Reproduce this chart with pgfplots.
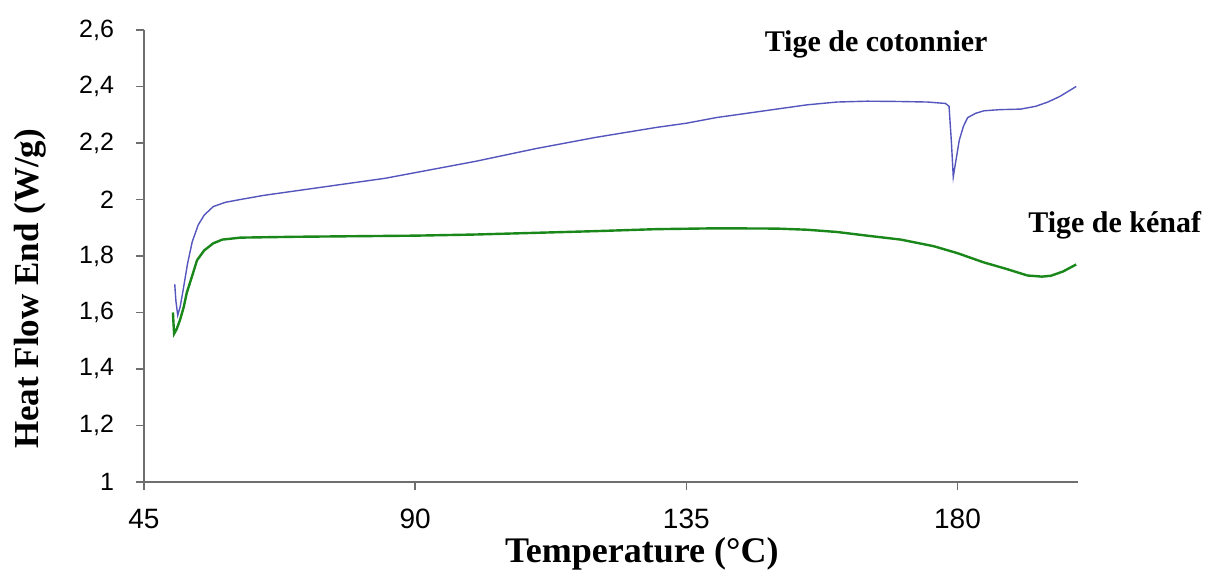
\documentclass[border=0pt]{standalone}
\usepackage{fontspec}
\setmainfont{Liberation Serif}
\newfontfamily\arial{Liberation Sans}
\usepackage{pgfplots}
\pgfplotsset{compat=1.18}
\definecolor{cblue}{RGB}{85,85,190}
\definecolor{cgreen}{RGB}{25,135,25}
\definecolor{caxis}{RGB}{110,110,110}
\begin{document}
\begin{tikzpicture}
\path[use as bounding box] (-72pt,-44.5pt) rectangle (531pt,241pt);
\begin{axis}[
  at={(0,0)}, anchor=origin,
  scale only axis,
  width=467pt, height=226pt,
  xmin=45, xmax=200, ymin=1, ymax=2.6,
  axis lines=left,
  axis line style={-, caxis, line width=0.9pt},
  clip=false,
  xtick={45,90,135,180},
  ytick={1,1.2,1.4,1.6,1.8,2,2.2,2.4,2.6},
  tick style={caxis, line width=0.8pt},
  tick align=outside,
  major tick length=4pt,
  /pgf/number format/assume math mode=true,
  /pgf/number format/use comma,
  /pgf/number format/fixed,
  /pgf/number format/precision=1,
  yticklabel style={font=\arial\fontsize{12.5}{13}\selectfont, xshift=-7.5pt},
  xticklabel style={font=\arial\fontsize{14}{14}\selectfont, yshift=-6pt},
  xlabel={\textbf{Temperature (°C)}},
  ylabel={\textbf{Heat Flow End (W/g)}},
  xlabel style={font=\fontsize{18}{18}\selectfont, at={(axis description cs:0.533,0)}, anchor=base, yshift=-40.5pt},
  ylabel style={font=\fontsize{17.5}{18}\selectfont, at={(axis description cs:-0.122,0.427)}, anchor=center},
]
\addplot[cblue, line width=0.7pt] coordinates {
(50.1,1.70) (50.3,1.64) (50.6,1.59) (51.0,1.62) (51.5,1.68) (52.2,1.77) (53.0,1.85) (54.0,1.91) (55.0,1.945) (56.5,1.975) (58.5,1.99) (61,2.0) (65,2.015) (70,2.03) (75,2.045) (80,2.06) (85,2.075) (90,2.095) (100,2.135) (110,2.18) (120,2.22) (130,2.255) (135,2.27) (140,2.29) (145,2.305) (150,2.32) (155,2.335) (160,2.345) (165,2.348) (170,2.347) (175,2.345) (178,2.34) (178.6,2.33) (179.0,2.20) (179.3,2.08) (179.6,2.12) (180.3,2.21) (181,2.26) (181.7,2.29) (183,2.305) (184.4,2.314) (187,2.318) (190.5,2.32) (193,2.33) (195,2.345) (197,2.365) (199.7,2.40)
};
\addplot[cgreen, line width=1.2pt] coordinates {
(49.8,1.60) (49.9,1.56) (50.0,1.525) (50.4,1.54) (51.0,1.575) (51.6,1.62) (52.1,1.67) (53,1.73) (53.8,1.785) (55,1.82) (56.5,1.845) (58,1.858) (61,1.865) (70,1.868) (80,1.87) (90,1.872) (100,1.876) (110,1.882) (120,1.888) (130,1.895) (140,1.898) (150,1.897) (155,1.893) (160,1.885) (165,1.872) (170.6,1.858) (176,1.835) (180,1.81) (184.4,1.777) (188,1.755) (191.6,1.731) (194,1.727) (195.5,1.73) (197.5,1.745) (199.7,1.77)
};
\node[anchor=base, font=\bfseries\fontsize{15}{15}\selectfont] at (axis cs:166.5,2.525) {Tige de cotonnier};
\node[anchor=base, font=\bfseries\fontsize{15}{15}\selectfont] at (axis cs:206.1,1.883) {Tige de kénaf};
\end{axis}
\end{tikzpicture}
\end{document}
